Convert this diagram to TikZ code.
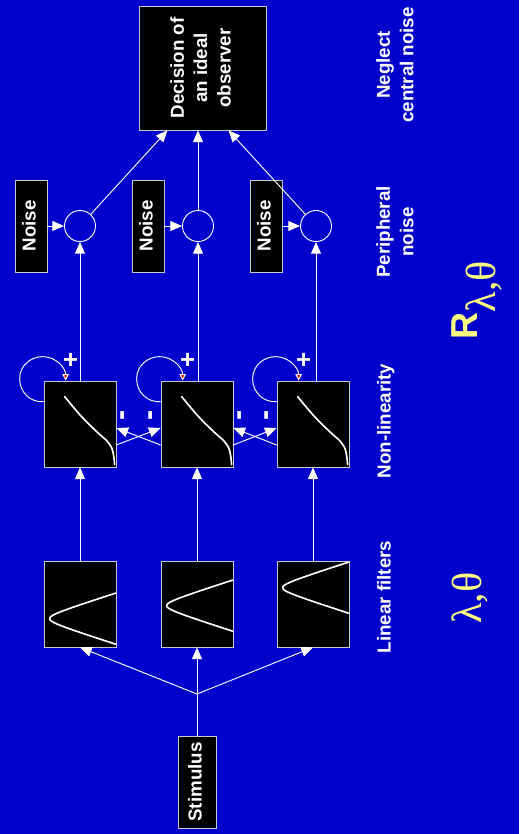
\documentclass[tikz,border=0pt]{standalone}
\usepackage{fontspec}
\setmainfont{Liberation Sans}
\newfontfamily\greekfont{Liberation Serif}
\usepackage{graphicx}
\usetikzlibrary{arrows.meta,calc}
\definecolor{bgblue}   {HTML}{0000CC}
\definecolor{boxgray}  {HTML}{C8C8C8}
\definecolor{lblyellow}{HTML}{FFFF80}
\newcommand{\vtext}[1]{\rotatebox{90}{\begin{tabular}{@{}c@{}}#1\end{tabular}}}
\tikzset{
  blk/.style={draw=boxgray, fill=black, line width=0.6pt, inner sep=0pt, text=white,
    font=\bfseries\fontsize{16}{20}\selectfont},
  filt/.style={blk, minimum width=2.16cm, minimum height=2.58cm},
  sumnode/.style={circle, draw=white, line width=0.8pt, minimum size=0.93cm, inner sep=0pt},
  lbl/.style={text=white, font=\bfseries\fontsize{16}{20}\selectfont, inner sep=0pt},
  pm/.style={text=white, font=\bfseries\fontsize{22}{22}\selectfont, inner sep=0pt},
  wire/.style={white, line width=0.8pt},
  arr/.style={wire, -{Triangle[length=10pt,width=8.5pt]}},
  selfloop/.style={wire, -{Triangle[length=5.5pt,width=5.5pt,fill=red]}},
  resp/.style={white, line width=1.4pt, line cap=round},
}
\begin{document}
\begin{tikzpicture}[x=0.03cm,y=-0.03cm]
  \fill[bgblue] (0,0) rectangle (519,834);
  \useasboundingbox (0,0) rectangle (519,834);

  % blocks
  \node[blk, minimum width=1.14cm, minimum height=2.76cm] (stim) at (197,782) {\vtext{Stimulus}};
  \coordinate (junc) at (197,694);
  \foreach \i/\x in {1/80,2/197,3/313} {
    \node[filt] (lf\i) at (\x,604) {};
    \node[filt] (nl\i) at (\x,424) {};
  }
  \foreach \i/\x/\n in {1/80/31,2/198/148,3/316/266} {
    \node[sumnode] (sum\i) at (\x,226) {};
    \node[blk, minimum width=0.96cm, minimum height=2.76cm] (noise\i) at (\n,226) {\vtext{Noise}};
  }
  \node[blk, minimum width=3.81cm, minimum height=3.72cm] (dec) at (202.5,68)
    {\vtext{Decision of\\an ideal\\observer}};

  % filter responses
  \foreach \i/\t in {1/58,2/45,3/27} {
    \begin{scope}[shift={(lf\i.north west)}]
      \draw[resp] plot[domain=-25.5:25.5, samples=41, smooth]
        ({6+15.7*(sqrt(1+(\x/5)^2)-1)}, {\t+\x});
    \end{scope}
  }
  \foreach \i in {1,2,3} {
    \begin{scope}[shift={(nl\i.north west)}]
      \draw[resp] plot[smooth] coordinates {(21,16) (37,35) (53,51) (63,60) (68,67) (70,75) (71,84)};
      \draw[selfloop] (0,21) .. controls (-13,22) and (-24,12) .. (-24,-2)
        .. controls (-24,-15) and (-13,-24) .. (-1,-24)
        .. controls (12,-24) and (22,-13) .. (22,0);
      \node[pm] (plus\i) at (27,-20) {+};
    \end{scope}
  }

  % connections
  \draw[wire] (stim) -- (junc);
  \draw[arr] (junc) -- (lf1.south);
  \draw[arr] (junc) -- (lf2);
  \draw[arr] (junc) -- (lf3.south);
  \foreach \i in {1,2,3} {
    \draw[arr] (lf\i) -- (nl\i);
    \draw[arr] (sum\i |- nl\i.north) -- (sum\i);
    \draw[arr] (noise\i) -- (sum\i);
  }
  \foreach \a/\b in {1/2,2/3} {
    \draw[arr] ($(nl\a.east)+(0,21)$) -- ($(nl\b.west)+(0,4)$);
    \draw[arr] ($(nl\b.west)+(0,21)$) -- ($(nl\a.east)+(0,4)$);
    \node[pm, font=\bfseries\fontsize{26}{26}\selectfont] (inha\a) at ($(nl\a.east)+(8,-9)$) {\vtext{-}};
    \node[pm, font=\bfseries\fontsize{26}{26}\selectfont] (inhb\a) at ($(nl\b.west)+(-8,-9)$) {\vtext{-}};
  }
  \draw[arr] (sum1) -- ($(dec.south)+(-35,0)$);
  \draw[arr] (sum2) -- (sum2 |- dec.south);
  \draw[arr] (sum3) -- ($(dec.south)+(26,0)$);

  % stage labels
  \node[lbl] (lbllin) at (386,597) {\vtext{Linear filters}};
  \node[lbl] (lblnl)  at (386,421) {\vtext{Non-linearity}};
  \node[lbl] (lblper) at (397,232) {\vtext{Peripheral\\noise}};
  \node[lbl] (lblneg) at (397,65)  {\vtext{Neglect\\central noise}};
  \node[text=lblyellow, inner sep=0pt] (par) at (470,598)
    {\vtext{\greekfont\fontsize{36}{40}\selectfont λ,θ}};
  \node[text=lblyellow, inner sep=0pt] (resp) at (477,300)
    {\vtext{\bfseries\fontsize{32}{38}\selectfont R\raisebox{-15pt}{\mdseries\greekfont\fontsize{36}{40}\selectfont λ,θ}}};
\end{tikzpicture}
\end{document}
